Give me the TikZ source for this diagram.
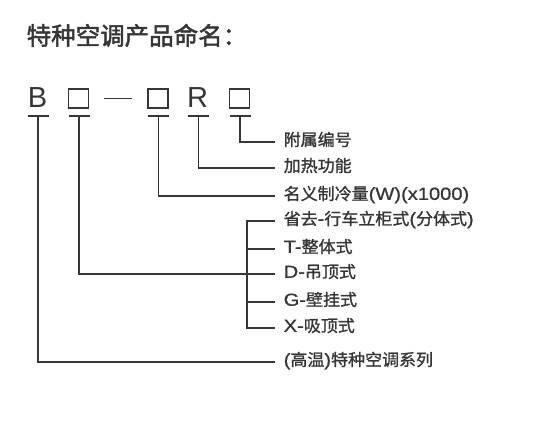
\documentclass[tikz,border=0pt]{standalone}
\usepackage{fontspec}
\setmainfont{Noto Sans CJK SC}[FakeStretch=1.03,FakeBold=1.3]
\newfontfamily\titlefont{Noto Sans CJK SC}[FakeBold=2]
\newfontfamily\latinfont{Liberation Sans}[Scale=1.06,FakeStretch=1.15,FakeBold=0.9]
\newfontfamily\codefont{Liberation Sans}
\newcommand{\lat}[1]{{\latinfont #1}}
\usetikzlibrary{positioning}

\definecolor{ink}{HTML}{363636}

\begin{document}
\begin{tikzpicture}[x=1pt,y=-1pt,line width=1.4pt,draw=ink,
  lbl/.style={anchor=west,inner sep=0pt,text=ink,font=\fontsize{16.5}{18}\selectfont,
    text height=0.88em,text depth=0.12em},
  code/.style={inner sep=0pt,text=ink,font=\codefont\fontsize{29}{30}\selectfont},
  slot/.style={draw=ink,line width=1.5pt,minimum width=20pt,minimum height=19pt,inner sep=0pt},
  bar/.style={line width=1.4pt}]
\useasboundingbox (0,0) rectangle (544,426);

\node[anchor=west,inner sep=0pt,text=ink,font=\titlefont\fontsize{24.5}{25}\selectfont,
  text height=0.88em,text depth=0.12em] (title) at (26,41) {特种空调产品命名：};

% code row
\node[code] (cB) at (37.5,98) {B};
\node[slot] (s1) at (78.5,98.5) {};
\node[slot] (s2) at (158,98.5) {};
\node[code] (cR) at (197.5,98) {R};
\node[slot] (s3) at (239.5,98.5) {};
\draw ([xshift=15pt]s1.east) -- ([xshift=43pt]s1.east);

% tick bars
\foreach \t/\x in {tB/38,t1/79,t2/158.5,tR/198.5,t3/240}{
  \coordinate (\t) at (\x,116);
  \draw[bar] ([xshift=-10.5pt]\t) -- ([xshift=10.5pt]\t);
}

% labels
\node[lbl] (l3) at (283,142) {附属编号};
\node[lbl] (lR) at (283,168) {加热功能};
\node[lbl] (l2) at (283,196) {名义制冷量\lat{(W)(x1000)}};
\node[lbl] (lS) at (283,221) {省去\lat{-}行车立柜式\lat{(}分体式\lat{)}};
\node[lbl] (lT) at (283,249) {\lat{T-}整体式};
\node[lbl] (lD) at (283,274) {\lat{D-}吊顶式};
\node[lbl] (lG) at (283,302) {\lat{G-}壁挂式};
\node[lbl] (lX) at (283,328) {\lat{X-}吸顶式};
\node[lbl] (lB) at (283,362) {\lat{(}高温\lat{)}特种空调系列};

% connectors
\draw (t3) |- ([xshift=-8pt]l3.west);
\draw (tR) |- ([xshift=-8pt]lR.west);
\draw (t2) |- ([xshift=-8pt]l2.west);
\draw (t1) |- ([xshift=-8pt]lD.west);
\draw (tB) |- ([xshift=-8pt]lB.west);

% bracket
\coordinate (br) at (247,0);
\draw ([xshift=-8pt]lS.west) -- (lS.west -| br) -- (lX.west -| br) -- ([xshift=-8pt]lX.west);
\foreach \l in {lT,lG}{
  \draw (\l.west -| br) -- ([xshift=-8pt]\l.west);
}
\end{tikzpicture}
\end{document}
